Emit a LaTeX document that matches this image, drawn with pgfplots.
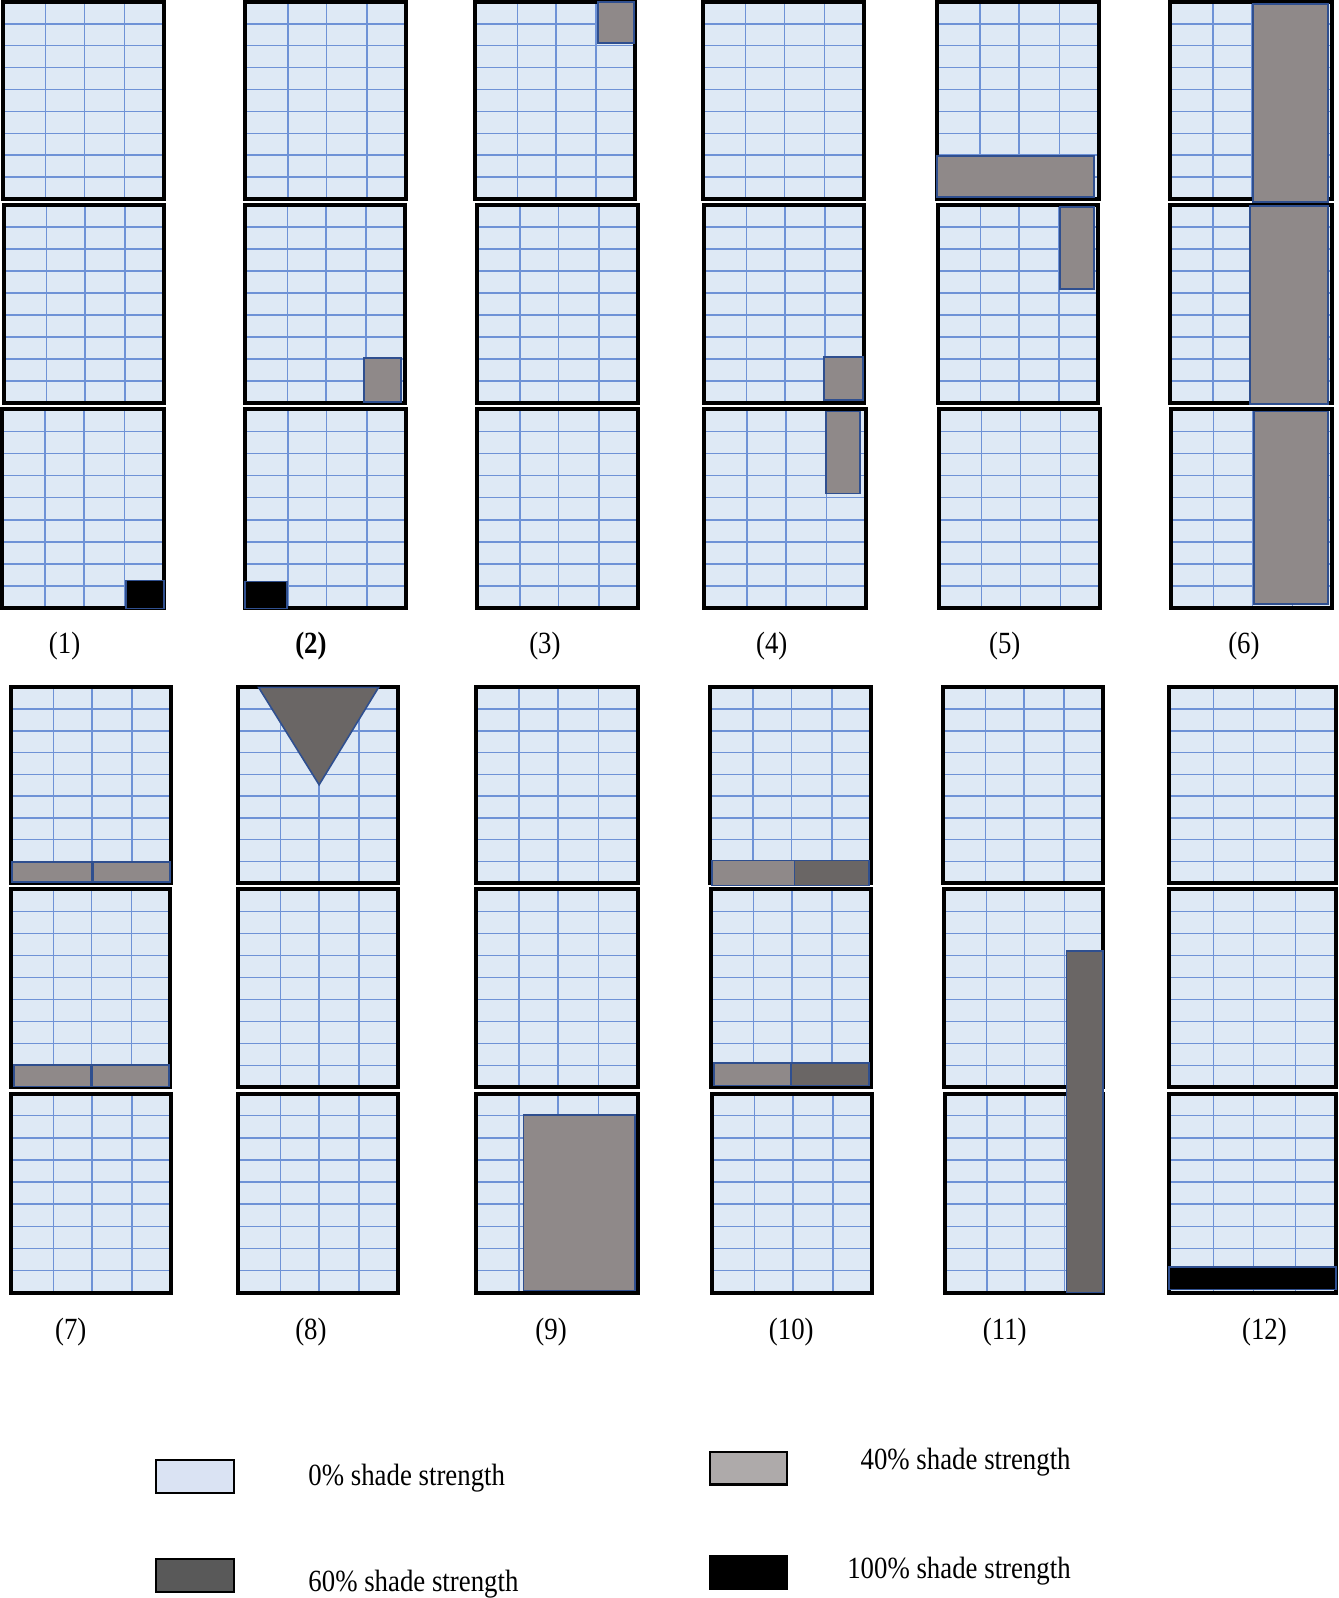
\documentclass[border=0pt]{standalone}
\usepackage{pgfplots}
\pgfplotsset{compat=1.18}
\usepackage{fontspec}
\setmainfont{Liberation Serif}

\definecolor{cellfill}{HTML}{DEE9F5}
\definecolor{gridblue}{HTML}{6E92D6}
\definecolor{shapeblue}{HTML}{2F4F8F}
\definecolor{gfour}{HTML}{8F8989}
\definecolor{gsix}{HTML}{6A6665}
\definecolor{lzero}{HTML}{DAE3F3}
\definecolor{lfour}{HTML}{AEAAAA}
\definecolor{lsix}{HTML}{595959}

\pgfplotsset{
  gridl/.style={draw=gridblue, line width=0.4pt, forget plot},
  frame/.style={draw=black, line width=1.1pt, line join=miter, forget plot},
  shade/.style={fill=#1, draw=shapeblue, line width=0.45pt, forget plot},
  lbox/.style={fill=#1, draw=black, line width=0.6pt, forget plot},
}

% one 4 x 9 grid box: x0 x1 y0(top) y1(bottom)
\newcommand\cell[4]{%
  \pgfmathsetmacro\cellw{#2-#1}%
  \pgfmathsetmacro\cellh{#4-#3}%
  \gdef\gridpts{}%
  \foreach \fr in {0.265,0.505,0.755}{%
    \pgfmathsetmacro\lineval{#1+\fr*\cellw}%
    \xdef\gridpts{\gridpts (\lineval,#3) (\lineval,#4) (\lineval,nan)}}%
  \foreach \fr in {0.1111,0.2222,0.3333,0.4444,0.5556,0.6667,0.7778,0.8889}{%
    \pgfmathsetmacro\lineval{#3+\fr*\cellh}%
    \xdef\gridpts{\gridpts (#1,\lineval) (#2,\lineval) (nan,\lineval)}}%
  \edef\doit{%
    \noexpand\addplot[fill=cellfill, draw=none, forget plot] coordinates {(#1,#3) (#2,#3) (#2,#4) (#1,#4)} -- cycle;
    \noexpand\addplot[gridl] coordinates {\gridpts};
    \noexpand\addplot[frame] coordinates {(#1,#3) (#2,#3) (#2,#4) (#1,#4)} -- cycle;}%
  \doit}

\newcommand\txt{\fontsize{8.7}{10}\selectfont}

\begin{document}
\begin{tikzpicture}
\begin{axis}[
  scale only axis, width=13.38cm, height=15.98cm,
  hide axis, clip=false,
  xmin=0, xmax=1314, ymin=0, ymax=1570,
  y dir=reverse,
  unbounded coords=jump,
]
% top row
\cell{8}{165}{10}{202}    \cell{9}{165}{208}{401}    \cell{7}{165}{407}{601}
\cell{244}{401}{10}{202}  \cell{244}{400}{208}{401}  \cell{244}{401}{407}{601}
\cell{468}{624}{10}{202}  \cell{470}{627}{208}{401}  \cell{470}{627}{407}{601}
\cell{690}{847}{10}{202}  \cell{691}{847}{208}{401}  \cell{691}{849}{407}{601}
\cell{918}{1076}{10}{202} \cell{919}{1075}{208}{401} \cell{920}{1077}{407}{601}
\cell{1145}{1303}{10}{202} \cell{1145}{1303}{208}{401} \cell{1146}{1303}{407}{601}
% bottom row
\cell{16}{172}{678}{869}  \cell{16}{171}{875}{1068}  \cell{16}{172}{1074}{1268}
\cell{237}{393}{678}{869} \cell{237}{393}{875}{1068} \cell{237}{393}{1074}{1268}
\cell{469}{627}{678}{869} \cell{469}{627}{875}{1068} \cell{469}{627}{1074}{1268}
\cell{697}{854}{678}{869} \cell{698}{854}{875}{1068} \cell{699}{855}{1074}{1268}
\cell{924}{1080}{678}{869} \cell{925}{1080}{875}{1068} \cell{926}{1080}{1074}{1268}
\cell{1144}{1307}{678}{869} \cell{1144}{1307}{875}{1068} \cell{1144}{1307}{1074}{1268}

% shaded areas
% (1)
\addplot[shade=black] coordinates {(128,574) (165,574) (165,601) (128,601)} -- cycle;
% (2)
\addplot[shade=gfour] coordinates {(360,357) (396,357) (396,400) (360,400)} -- cycle;
\addplot[shade=black] coordinates {(244,575) (285,575) (285,601) (244,601)} -- cycle;
% (3)
\addplot[shade=gfour] coordinates {(588,10) (623,10) (623,50) (588,50)} -- cycle;
% (4)
\addplot[shade=gfour] coordinates {(808,356) (846,356) (846,398) (808,398)} -- cycle;
\addplot[shade=gfour] coordinates {(810,409) (843,409) (843,489) (810,489)} -- cycle;
% (5)
\addplot[shade=gfour] coordinates {(918,160) (1071,160) (1071,200) (918,200)} -- cycle;
\addplot[shade=gfour] coordinates {(1038,210) (1071,210) (1071,290) (1038,290)} -- cycle;
% (6)
\addplot[shade=gfour] coordinates {(1226,12) (1299,12) (1299,205) (1226,205)} -- cycle;
\addplot[shade=gfour] coordinates {(1223,209) (1299,209) (1299,402) (1223,402)} -- cycle;
\addplot[shade=gfour] coordinates {(1227,409) (1299,409) (1299,597) (1227,597)} -- cycle;
% (7)
\addplot[shade=gfour] coordinates {(17,848) (95,848) (95,868) (17,868)} -- cycle;
\addplot[shade=gfour] coordinates {(96,848) (171,848) (171,868) (96,868)} -- cycle;
\addplot[shade=gfour] coordinates {(19,1046) (94,1046) (94,1067) (19,1067)} -- cycle;
\addplot[shade=gfour] coordinates {(95,1046) (170,1046) (170,1067) (95,1067)} -- cycle;
% (8)
\addplot[shade=gsix] coordinates {(257,678) (374,678) (316,773)} -- cycle;
% (9)
\addplot[shade=gfour] coordinates {(515,1095) (624,1095) (624,1266) (515,1266)} -- cycle;
% (10)
\addplot[shade=gfour] coordinates {(699,847) (779,847) (779,871) (699,871)} -- cycle;
\addplot[shade=gsix] coordinates {(779,847) (852,847) (852,871) (779,871)} -- cycle;
\addplot[shade=gfour] coordinates {(701,1044) (776,1044) (776,1066) (701,1066)} -- cycle;
\addplot[shade=gsix] coordinates {(776,1044) (852,1044) (852,1066) (776,1066)} -- cycle;
% (11)
\addplot[shade=gsix] coordinates {(1044,935) (1080,935) (1080,1268) (1044,1268)} -- cycle;
% (12)
\addplot[shade=black] coordinates {(1144,1243) (1307,1243) (1307,1265) (1144,1265)} -- cycle;

% panel labels
\foreach \lx/\ly/\lab in {68/638/(1), 536/638/(3), 757/638/(4), 984/638/(5), 1217/638/(6),
  74/1306/(7), 308/1306/(8), 542/1306/(9), 776/1306/(10), 984/1306/(11), 1237/1306/(12)}{
  \edef\tmp{\noexpand\node[font=\noexpand\txt, xscale=0.87] at (axis cs:\lx,\ly) {\lab};}\tmp
}
\node[font=\txt\bfseries, xscale=0.87] at (axis cs:308,638) {(2)};

% legend
\addplot[lbox=lzero] coordinates {(157,1431) (233,1431) (233,1463) (157,1463)} -- cycle;
\addplot[lbox=lsix] coordinates {(157,1528) (233,1528) (233,1560) (157,1560)} -- cycle;
\addplot[lbox=lfour] coordinates {(697,1423) (772,1423) (772,1455) (697,1455)} -- cycle;
\addplot[lbox=black] coordinates {(697,1525) (772,1525) (772,1557) (697,1557)} -- cycle;
\node[font=\txt, xscale=0.87, anchor=west, inner sep=0pt] at (axis cs:305,1449) {0\% shade strength};
\node[font=\txt, xscale=0.87, anchor=west, inner sep=0pt] at (axis cs:305,1552) {60\% shade strength};
\node[font=\txt, xscale=0.87, anchor=west, inner sep=0pt] at (axis cs:843,1433) {40\% shade strength};
\node[font=\txt, xscale=0.87, anchor=west, inner sep=0pt] at (axis cs:830,1539) {100\% shade strength};
\end{axis}
\end{tikzpicture}
\end{document}
